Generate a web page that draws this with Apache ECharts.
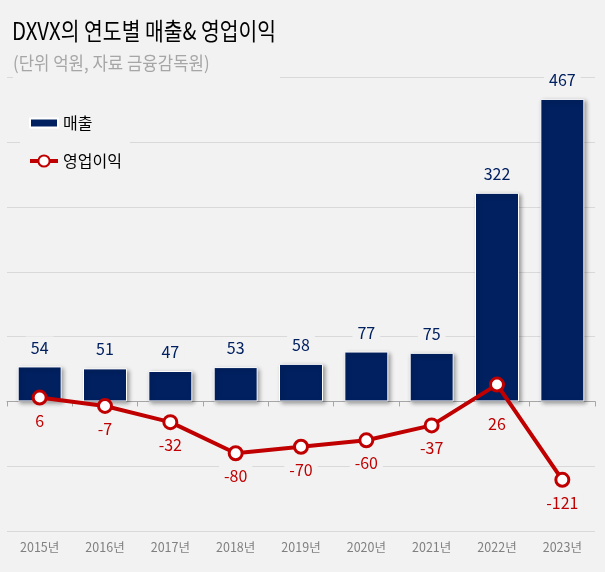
<!DOCTYPE html>
<html><head><meta charset="utf-8">
<script src="https://cdn.jsdelivr.net/npm/echarts@6/dist/echarts.min.js"></script>
<style>html,body{margin:0;padding:0;background:#f2f2f2;}#c{width:605px;height:572px;}</style>
</head><body><div id="c"></div>
<script>
const titleText = 'DXVX의 연도별 매출& 영업이익';
const subtitleText = '(단위 억원, 자료 금융감독원)';
const categories = ['2015년','2016년','2017년','2018년','2019년','2020년','2021년','2022년','2023년'];
const sales = [54, 51, 47, 53, 58, 77, 75, 322, 467];
const operatingProfit = [6, -7, -32, -80, -70, -60, -37, 26, -121];
const seriesNames = ['매출', '영업이익'];

const BG = '#f2f2f2';
const FONT = '"Noto Sans CJK KR", "Noto Sans", sans-serif';
// the 2022 label sits lower in the reference (below the axis line)
const profitData = operatingProfit.map((v, i) =>
  categories[i] === '2022년' ? { value: v, label: { distance: 20 } } : v);

const chart = echarts.init(document.getElementById('c'));
chart.setOption({
  backgroundColor: BG,
  animation: false,
  textStyle: { fontFamily: FONT },
  graphic: [
    { type: 'rect', z: 100, shape: { x: 13, y: 72, width: 267, height: 10 }, style: { fill: BG } },
    { type: 'text', z: 101, x: 12, y: 31, scaleX: 0.85,
      style: { text: titleText, fontSize: 24, fontFamily: FONT, fill: '#000', textVerticalAlign: 'middle' } },
    { type: 'text', z: 101, x: 13, y: 63, scaleX: 0.93,
      style: { text: subtitleText, fontSize: 18, fontFamily: FONT, fill: '#a6a6a6', textVerticalAlign: 'middle' } }
  ],
  legend: {
    orient: 'vertical', left: 20, top: 107, padding: [8, 8],
    backgroundColor: BG, itemWidth: 28, itemHeight: 14, itemGap: 22,
    symbolKeepAspect: true,
    textStyle: { color: '#000', fontSize: 16, fontFamily: FONT },
    lineStyle: { width: 4 },
    data: [
      { name: seriesNames[0], icon: 'path://M0,0H28V9H0Z' },
      { name: seriesNames[1] }
    ]
  },
  grid: { left: 7, right: 10, top: 77.5, bottom: 41, containLabel: false },
  xAxis: [
    { type: 'category', data: categories, position: 'bottom',
      axisLine: { show: false, onZero: false }, axisTick: { show: false },
      axisLabel: { color: '#808080', fontSize: 12.5, margin: 10, fontFamily: FONT } },
    { type: 'category', data: categories, position: 'bottom',
      axisLine: { show: true, onZero: true, lineStyle: { color: '#a6a6a6', width: 1 } },
      axisTick: { show: true, length: 5, lineStyle: { color: '#a6a6a6' } },
      axisLabel: { show: false } }
  ],
  yAxis: {
    type: 'value', min: -200, max: 500, interval: 100,
    axisLabel: { show: false }, axisLine: { show: false }, axisTick: { show: false },
    splitLine: { lineStyle: { color: '#d9d9d9', width: 1 } }
  },
  series: [
    { name: seriesNames[0], type: 'bar', data: sales, barWidth: 44, xAxisIndex: 0,
      itemStyle: { color: '#002060', borderColor: '#ffffff', borderWidth: 1,
        shadowBlur: 4, shadowColor: 'rgba(0,0,0,0.35)', shadowOffsetX: 2, shadowOffsetY: 2 },
      label: { show: true, position: 'top', distance: 8, color: '#002060', fontSize: 16,
        fontFamily: FONT, backgroundColor: BG, padding: [3, 5] } },
    { name: seriesNames[1], type: 'line', data: profitData, xAxisIndex: 0,
      symbol: 'circle', symbolSize: 13,
      lineStyle: { color: '#c00000', width: 4 },
      itemStyle: { color: '#ffffff', borderColor: '#c00000', borderWidth: 3 },
      label: { show: true, position: 'bottom', distance: 4, color: '#c00000', fontSize: 16,
        fontFamily: FONT, backgroundColor: BG, padding: [3, 5] } }
  ]
});
</script></body></html>
